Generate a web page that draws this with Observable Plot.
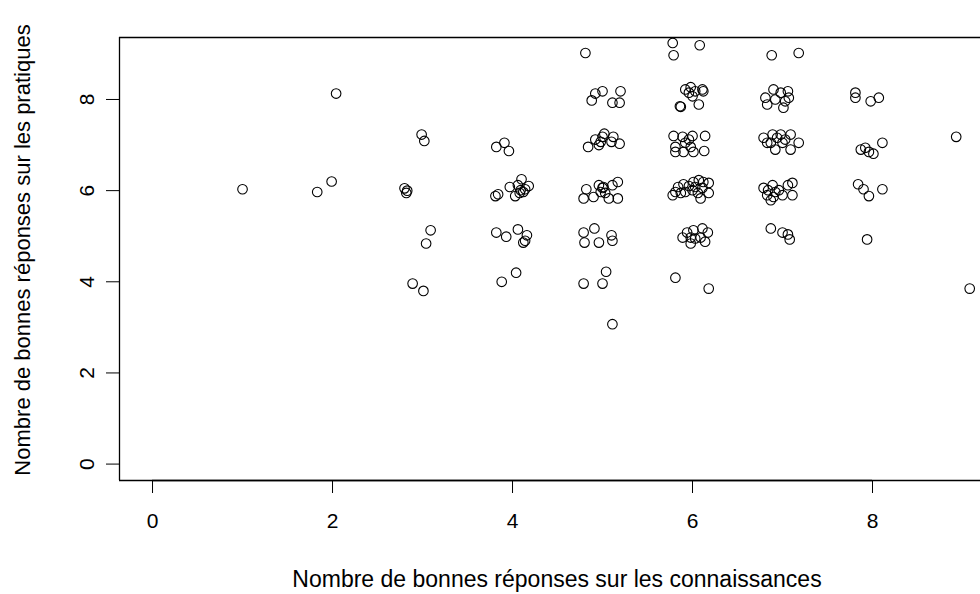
<!DOCTYPE html>
<html>
<head>
<meta charset="utf-8">
<script src="https://cdn.jsdelivr.net/npm/d3@7"></script>
<script src="https://cdn.jsdelivr.net/npm/@observablehq/plot@0.6"></script>
<style>
  html, body { margin: 0; padding: 0; background: #fff; }
  svg { display: block; }
</style>
</head>
<body>
<div id="chart"></div>
<script>
// Jittered scores: x = connaissances, y = pratiques
const connaissances = [
  1.0,
  1.83, 1.99, 2.04,
  2.80, 2.82, 2.83, 2.99, 3.02, 3.09, 3.04, 2.89, 3.01,
  3.82, 3.91, 3.96,
  3.81, 3.84, 3.97, 4.06, 4.10, 4.08, 4.03, 4.18, 4.14, 4.09, 4.12,
  3.82, 3.93, 4.06, 4.16, 4.12, 4.14,
  3.88, 4.04,
  4.81,
  4.88, 4.92, 5.00, 5.20, 5.11, 5.19,
  4.84, 4.92, 4.96, 5.00, 5.02, 4.98, 5.12, 5.10, 5.19,
  4.79, 4.82, 4.90, 4.96, 5.00, 5.03, 5.07, 5.17, 5.11, 5.17, 5.01, 4.98,
  4.79, 4.91, 4.80, 4.96, 5.10, 5.11,
  4.79, 5.00, 5.04,
  5.11,
  5.78, 5.79, 6.08,
  5.92, 5.96, 6.00, 6.11, 6.12, 6.03, 6.07, 5.86, 5.87, 5.98,
  5.79, 5.81, 5.81, 5.89, 5.92, 5.96, 6.00, 5.90, 6.01, 6.14, 6.13, 5.98,
  5.78, 5.81, 5.84, 5.90, 5.96, 6.01, 6.07, 6.12, 6.18, 6.18, 6.09, 6.06, 6.00, 5.92, 5.87, 6.11, 6.03,
  5.89, 5.94, 5.98, 5.98, 6.03, 6.09, 6.11, 6.17, 6.14, 6.01,
  5.81, 6.18,
  6.88, 7.18,
  6.81, 6.83, 6.90, 6.98, 7.06, 7.07, 7.01, 6.92, 7.03,
  6.79, 6.83, 6.89, 6.94, 6.98, 7.00, 7.09, 7.18, 7.09, 6.92, 6.87, 7.03,
  6.79, 6.83, 6.89, 6.87, 6.92, 7.00, 7.06, 7.11, 7.11, 6.90, 6.96, 6.84,
  6.87, 7.00, 7.06, 7.08,
  7.81, 7.81, 7.98, 8.07,
  7.87, 7.92, 7.96, 8.01, 8.11,
  7.84, 7.90, 7.96, 8.11,
  7.94,
  8.93, 9.08
];
const pratiques = [
  6.03,
  5.97, 6.20, 8.13,
  6.05, 5.95, 6.00, 7.23, 7.09, 5.13, 4.84, 3.96, 3.80,
  6.96, 7.05, 6.87,
  5.88, 5.92, 6.08, 6.12, 6.25, 5.95, 5.88, 6.10, 6.03, 6.01, 5.97,
  5.08, 4.99, 5.15, 5.02, 4.86, 4.90,
  4.00, 4.20,
  9.02,
  7.98, 8.13, 8.18, 8.18, 7.93, 7.93,
  6.96, 7.12, 7.00, 7.18, 7.25, 7.07, 7.18, 7.07, 7.03,
  5.83, 6.03, 5.86, 6.12, 6.06, 5.95, 5.83, 5.83, 6.12, 6.19, 6.08, 5.97,
  5.08, 5.17, 4.86, 4.86, 5.02, 4.90,
  3.96, 3.96, 4.22,
  3.07,
  9.24, 8.97, 9.19,
  8.22, 8.15, 8.07, 8.22, 8.18, 8.18, 7.89, 7.85, 7.84, 8.27,
  7.20, 6.96, 6.85, 7.18, 7.05, 7.12, 7.20, 6.85, 6.85, 7.20, 6.87, 6.96,
  5.90, 5.97, 6.08, 6.14, 6.10, 6.19, 6.23, 6.19, 6.17, 5.95, 5.83, 5.95, 6.01, 5.97, 5.95, 6.06, 6.08,
  4.97, 5.08, 4.97, 4.84, 4.95, 4.97, 5.17, 5.08, 4.88, 5.13,
  4.09, 3.85,
  8.97, 9.02,
  8.04, 7.89, 8.22, 8.15, 8.18, 8.04, 7.82, 8.00, 7.96,
  7.16, 7.05, 7.23, 7.16, 7.23, 7.05, 7.23, 7.05, 6.90, 6.90, 7.05, 7.12,
  6.06, 5.90, 6.12, 5.79, 5.97, 5.90, 6.12, 6.17, 5.90, 5.86, 6.01, 6.01,
  5.17, 5.08, 5.04, 4.93,
  8.15, 8.04, 7.96, 8.04,
  6.90, 6.94, 6.85, 6.81, 7.05,
  6.14, 6.03, 5.88, 6.03,
  4.93,
  7.18, 3.85
];
const xTicks = [0, 2, 4, 6, 8];
const yTicks = [0, 2, 4, 6, 8];
const xTitle = "Nombre de bonnes réponses sur les connaissances";
const yTitle = "Nombre de bonnes réponses sur les pratiques";

const data = connaissances.map((x, i) => ({x, y: pratiques[i]}));
const xDomain = [-0.367, 9.2];
const yDomain = [-0.36, 9.36];
const font = "'Liberation Sans', Arial, Helvetica, sans-serif";

const chart = Plot.plot({
  width: 980,
  height: 594,
  marginLeft: 119,
  marginRight: 0,
  marginTop: 37,
  marginBottom: 114,
  style: {fontFamily: font, background: "#fff", color: "#000", overflow: "visible"},
  x: {domain: xDomain, ticks: xTicks},
  y: {domain: yDomain, ticks: yTicks},
  marks: [
    Plot.axisX({ticks: xTicks, tickSize: 13, tickPadding: 20, fontSize: 21, label: null, stroke: "#000", strokeWidth: 1}),
    Plot.axisY({ticks: yTicks, tickSize: 13, tickFormat: () => "", label: null, stroke: "#000", strokeWidth: 1}),
    Plot.text(yTicks, {y: d => d, text: d => String(d), frameAnchor: "left", textAnchor: "middle", dx: -32, rotate: -90, fontSize: 21, fill: "#000"}),
    Plot.ruleX([xDomain[0]], {stroke: "#000", strokeWidth: 1.3}),
    Plot.ruleY(yDomain, {stroke: "#000", strokeWidth: 1.3}),
    Plot.ruleY([yDomain[0]], {x1: xTicks[0], x2: xTicks[xTicks.length - 1], stroke: "#000", strokeWidth: 1.3}),
    Plot.dot(data, {x: "x", y: "y", r: 4.8, stroke: "#000", strokeWidth: 1.1, fill: "none", clip: false}),
    Plot.text([xTitle], {frameAnchor: "bottom", textAnchor: "middle", dy: 106, dx: 7, fontSize: 23, fill: "#000"}),
    Plot.text([yTitle], {frameAnchor: "left", textAnchor: "middle", dx: -97, dy: -9, rotate: -90, fontSize: 22, fill: "#000"})
  ]
});
document.getElementById("chart").appendChild(chart);
</script>
</body>
</html>
